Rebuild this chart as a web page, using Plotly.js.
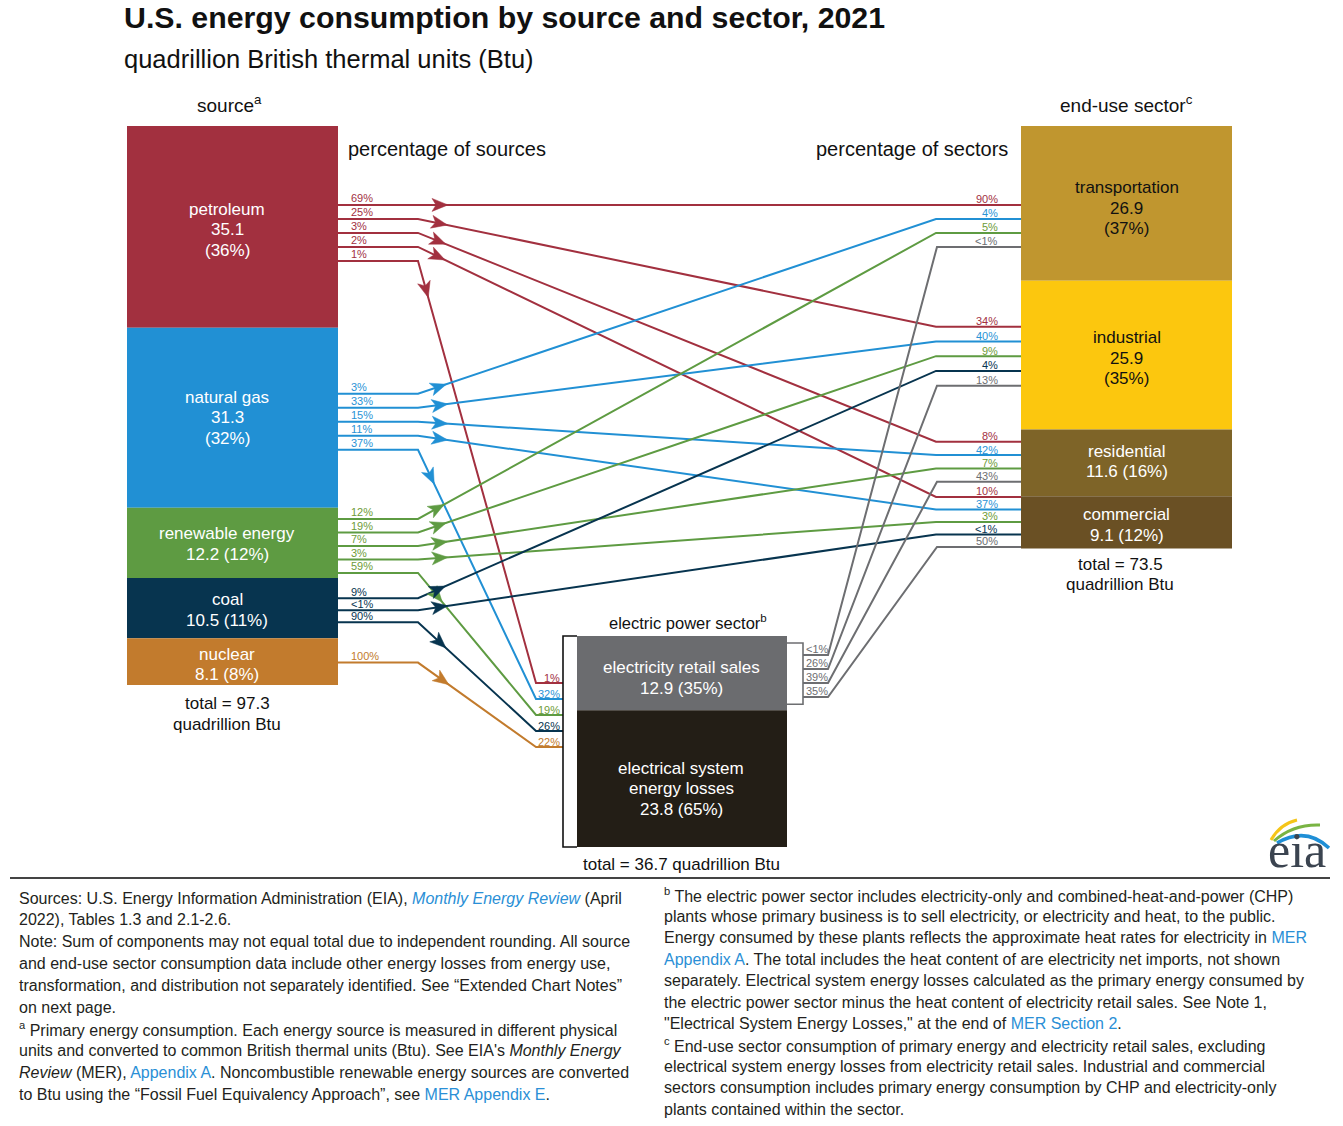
<!DOCTYPE html>
<html><head><meta charset="utf-8">
<script src="https://cdn.plot.ly/plotly-3.0.1.min.js"></script>
<style>body{margin:0;background:#fff}#chart{width:1343px;height:1126px}</style>
</head><body><div id="chart"></div>
<script>
// ---------------- DATA ----------------
const sources = ['petroleum','natural gas','renewable energy','coal','nuclear'];
const sourceValues = [35.1, 31.3, 12.2, 10.5, 8.1];
const sourceShares = ['36%','32%','12%','11%','8%'];
const sourceTotal = 97.3;

const sectors = ['transportation','industrial','residential','commercial'];
const sectorValues = [26.9, 25.9, 11.6, 9.1];
const sectorShares = ['37%','35%','16%','12%'];
const sectorTotal = 73.5;

const electricParts = ['electricity retail sales','electrical system|energy losses'];
const electricValues = [12.9, 23.8];
const electricShares = ['35%','65%'];
const electricTotal = 36.7;

// destinations order: transportation, industrial, residential, commercial, electric power
// percentage of each source going to each destination
const petroleumToPct  = ['69%','25%','3%','2%','1%'];
const naturalGasToPct = ['3%','33%','15%','11%','37%'];
const renewableToPct  = ['12%','19%','7%','3%','59%'];
const coalToPct       = [null,'9%',null,'<1%','90%'];
const nuclearToPct    = [null,null,null,null,'100%'];
// share of each destination supplied by each source
const petroleumInPct  = ['90%','34%','8%','10%','1%'];
const naturalGasInPct = ['4%','40%','42%','37%','32%'];
const renewableInPct  = ['5%','9%','7%','3%','19%'];
const coalInPct       = [null,'4%',null,'<1%','26%'];
const nuclearInPct    = [null,null,null,null,'22%'];
// electricity retail sales to the four sectors
const retailToPct = ['<1%','26%','39%','35%'];
const retailInPct = ['<1%','13%','43%','50%'];

// ---------------- STYLE / LAYOUT ----------------
const FONT = 'Liberation Sans, Arial, Helvetica, sans-serif';
const sourceColors = ['#a2303f','#2190d4','#5e9b42','#07344f','#c27b2d'];
const labelColors  = ['#a2303f','#2a93d6','#6e9c38','#07344f','#c27b2d'];
const sectorColors = ['#c0962f','#fcc70e','#7e6428','#6a5024'];
const sectorText   = ['#111','#111','#fff','#fff'];
const electricColors = ['#6b6c6f','#231e16'];
const retailColor = '#6d6e71';

const K = 5.75;            // pixels per quadrillion Btu
const TOP = 126;
const SRC_X0 = 127, SRC_X1 = 338;
const SEC_X0 = 1021, SEC_X1 = 1232;
const EL_X0 = 577, EL_X1 = 787, EL_TOP = 636;
const srcOffset = [6,4,3,2,1], srcSpacing = [14,14,13.5,12,0];
const secOffset = [22.6,1,-1.2,-0.5], secSpacing = [14,14.75,13.3,12.5];
const srcLabelShift = [3,0,1,2,3];
const secLabelShift = [5,3,-1.5,2.5];
const elLabelShift = [5,10];
const LINE_GAP = 20.5;

function stack(values, top){ let y = top; return values.map(v => { const y0 = y; y += v*K; return [y0, y]; }); }
const srcBlocks = stack(sourceValues, TOP);
const secBlocks = stack(sectorValues, TOP);
const elBlocks  = stack(electricValues, EL_TOP);

const srcTo = [petroleumToPct, naturalGasToPct, renewableToPct, coalToPct, nuclearToPct];
const srcIn = [petroleumInPct, naturalGasInPct, renewableInPct, coalInPct, nuclearInPct];

const shapes = [], annotations = [], traces = [];

function ann(x, y, text, opts){
  annotations.push(Object.assign({x, y, xref:'x', yref:'y', text, showarrow:false,
    xanchor:'center', yanchor:'middle', font:{family:FONT, size:17, color:'#111'}}, opts||{}));
}
function multiAnn(x, yc, lines, opts){
  const n = lines.length;
  lines.forEach((t,i)=> ann(x, yc + (i-(n-1)/2)*LINE_GAP, t, opts));
}
function rect(x0,y0,x1,y1,color){
  shapes.push({type:'rect', xref:'x', yref:'y', x0, x1, y0, y1, fillcolor:color, line:{width:0}, layer:'below'});
}

// blocks
sources.forEach((s,i)=>{
  const [y0,y1] = srcBlocks[i];
  rect(SRC_X0, y0, SRC_X1, y1, sourceColors[i]);
  const lines = (i<2) ? [s, `${sourceValues[i]}`, `(${sourceShares[i]})`] : [s, `${sourceValues[i]} (${sourceShares[i]})`];
  multiAnn(227, (y0+y1)/2 + srcLabelShift[i], lines, {font:{family:FONT,size:17,color:'#fff'}});
});
sectors.forEach((s,i)=>{
  const [y0,y1] = secBlocks[i];
  rect(SEC_X0, y0, SEC_X1, y1, sectorColors[i]);
  const lines = (i<2) ? [s, `${sectorValues[i]}`, `(${sectorShares[i]})`] : [s, `${sectorValues[i]} (${sectorShares[i]})`];
  multiAnn((SEC_X0+SEC_X1)/2, (y0+y1)/2 + secLabelShift[i], lines, {font:{family:FONT,size:17,color:sectorText[i]}});
});
electricParts.forEach((s,i)=>{
  const [y0,y1] = elBlocks[i];
  rect(EL_X0, y0, EL_X1, y1, electricColors[i]);
  const lines = s.split('|').concat([`${electricValues[i]} (${electricShares[i]})`]);
  multiAnn((EL_X0+EL_X1)/2 - 1, (y0+y1)/2 + elLabelShift[i], lines, {font:{family:FONT,size:17,color:'#fff'}});
});

// brackets
const elBottom = elBlocks[1][1];
shapes.push({type:'path', xref:'x', yref:'y', path:`M${EL_X0},${EL_TOP} H563 V${elBottom} H${EL_X0}`, line:{color:'#111',width:1.6}});
const rTop = elBlocks[0][0]+7, rBot = elBlocks[0][1]-6;
shapes.push({type:'path', xref:'x', yref:'y', path:`M${EL_X1},${rTop} H803 V${rBot} H${EL_X1}`, line:{color:retailColor,width:1.6}});

// slots
function srcSlot(s, d){
  const list = []; srcTo[s].forEach((p,j)=>{ if(p!==null) list.push(j); });
  const i = list.indexOf(d), n = list.length;
  const c = (srcBlocks[s][0]+srcBlocks[s][1])/2 + srcOffset[s];
  return c + (i-(n-1)/2)*srcSpacing[s];
}
function destSlot(d, s){ // s = source index or 'retail'
  const list = []; srcIn.forEach((arr,j)=>{ if(arr[d]!==null) list.push(j); });
  if(d<4){
    list.push('retail');
    const i = list.indexOf(s), n = list.length;
    const c = (secBlocks[d][0]+secBlocks[d][1])/2 + secOffset[d];
    return c + (i-(n-1)/2)*secSpacing[d];
  }
  const i = list.indexOf(s);
  return EL_TOP + 47 + i*16;
}

function addFlow(xs, ys, color, arrowT){
  traces.push({type:'scatter', mode:'lines', x:xs, y:ys, line:{color, width:2}, hoverinfo:'skip', showlegend:false});
  if(arrowT){
    const dx = xs[2]-xs[1], dy = ys[2]-ys[1], L = Math.hypot(dx,dy);
    const ux = dx/L, uy = dy/L, nx = -uy, ny = ux;
    const tx = xs[1]+ux*arrowT, ty = ys[1]+uy*arrowT;
    const bx = tx-ux*16, by = ty-uy*16, cx = tx-ux*12, cy = ty-uy*12;
    const p = (x,y)=>`${x.toFixed(2)},${y.toFixed(2)}`;
    shapes.push({type:'path', xref:'x', yref:'y',
      path:`M${p(tx,ty)} L${p(bx+nx*6.5,by+ny*6.5)} L${p(cx,cy)} L${p(bx-nx*6.5,by-ny*6.5)} Z`,
      fillcolor:color, line:{color, width:0.5}});
  }
}
function pctLabel(x, y, text, color, anchor){
  ann(x, y, text, {xanchor:anchor, font:{family:FONT, size:11, color}});
}

// source flows
srcTo.forEach((arr, s)=>{
  arr.forEach((p, d)=>{
    if(p===null) return;
    const ys = srcSlot(s, d), yt = destSlot(d, s);
    if(d<4){
      addFlow([SRC_X1, 418, 936, SEC_X0], [ys, ys, yt, yt], sourceColors[s], 30);
      pctLabel(1000, yt-5.5, srcIn[s][d], labelColors[s], 'right');
    } else {
      addFlow([SRC_X1, 418, 536, 563], [ys, ys, yt, yt], sourceColors[s], 38);
      pctLabel(562, yt-5.5, srcIn[s][d], labelColors[s], 'right');
    }
    pctLabel(349, ys-6.5, p, labelColors[s], 'left');
  });
});
// retail flows
retailToPct.forEach((p, d)=>{
  const yr = elBlocks[0][0] + 19 + d*14, yt = destSlot(d, 'retail');
  addFlow([803, 828, 937, SEC_X0], [yr, yr, yt, yt], retailColor, 0);
  pctLabel(804, yr-6, p, retailColor, 'left');
  pctLabel(1000, yt-5.5, retailInPct[d], retailColor, 'right');
});

// titles
ann(122, 17, '<b>U.S. energy consumption by source and sector, 2021</b>', {xanchor:'left', font:{family:FONT,size:30.3,color:'#111'}});
ann(122, 59, 'quadrillion British thermal units (Btu)', {xanchor:'left', font:{family:FONT,size:25.5,color:'#111'}});
ann(229, 104, 'source<sup>a</sup>', {font:{family:FONT,size:19,color:'#111'}});
ann(1126, 104, 'end-use sector<sup>c</sup>', {font:{family:FONT,size:19,color:'#111'}});
ann(346, 149, 'percentage of sources', {xanchor:'left', font:{family:FONT,size:20,color:'#111'}});
ann(1010, 149, 'percentage of sectors', {xanchor:'right', font:{family:FONT,size:20,color:'#111'}});
multiAnn(227, srcBlocks[4][1]+29, [`total = ${sourceTotal}`, 'quadrillion Btu']);
multiAnn(1120, secBlocks[3][1]+26, [`total = ${sectorTotal}`, 'quadrillion Btu']);
ann(688, EL_TOP-14, 'electric power sector<sup>b</sup>', {font:{family:FONT,size:16.5,color:'#111'}});
ann(681, elBottom+17, `total = ${electricTotal} quadrillion Btu`);

// separator
shapes.push({type:'line', xref:'x', yref:'y', x0:10, x1:1330, y0:878, y1:878, line:{color:'#444',width:2}});

// eia logo
ann(1297, 850, 'eia', {font:{family:'Liberation Serif, DejaVu Serif, serif', size:50, color:'#3b4450'}});
shapes.push({type:'path', xref:'x', yref:'y', path:'M1271,840 Q1280,824 1297,820', line:{color:'#f5c518',width:3}});
shapes.push({type:'path', xref:'x', yref:'y', path:'M1274,841 Q1293,824 1320,825', line:{color:'#79b443',width:3}});
shapes.push({type:'path', xref:'x', yref:'y', path:'M1277,843 Q1306,826 1329,848', line:{color:'#1f8fd6',width:3.5}});

// footnotes
const LINK = '#2a8fd6';
const Lk = t => `<span style="color:${LINK}">${t}</span>`;
const leftNotes = [
  `Sources: U.S. Energy Information Administration (EIA), ${Lk('<i>Monthly Energy Review</i>')} (April`,
  `2022), Tables 1.3 and 2.1-2.6.`,
  `Note: Sum of components may not equal total due to independent rounding. All source`,
  `and end-use sector consumption data include other energy losses from energy use,`,
  `transformation, and distribution not separately identified. See “Extended Chart Notes”`,
  `on next page.`,
  `<sup>a</sup> Primary energy consumption. Each energy source is measured in different physical`,
  `units and converted to common British thermal units (Btu). See EIA's <i>Monthly Energy</i>`,
  `<i>Review</i> (MER), ${Lk('Appendix A')}. Noncombustible renewable energy sources are converted`,
  `to Btu using the “Fossil Fuel Equivalency Approach”, see ${Lk('MER Appendix E')}.`
];
const rightNotes = [
  `<sup>b</sup> The electric power sector includes electricity-only and combined-heat-and-power (CHP)`,
  `plants whose primary business is to sell electricity, or electricity and heat, to the public.`,
  `Energy consumed by these plants reflects the approximate heat rates for electricity in ${Lk('MER')}`,
  `${Lk('Appendix A')}. The total includes the heat content of are electricity net imports, not shown`,
  `separately. Electrical system energy losses calculated as the primary energy consumed by`,
  `the electric power sector minus the heat content of electricity retail sales. See Note 1,`,
  `"Electrical System Energy Losses," at the end of ${Lk('MER Section 2')}.`,
  `<sup>c</sup> End-use sector consumption of primary energy and electricity retail sales, excluding`,
  `electrical system energy losses from electricity retail sales. Industrial and commercial`,
  `sectors consumption includes primary energy consumption by CHP and electricity-only`,
  `plants contained within the sector.`
];
leftNotes.forEach((t,i)=> ann(17, 898 + i*21.8, t, {xanchor:'left', font:{family:FONT,size:16,color:'#231f20'}}));
rightNotes.forEach((t,i)=> ann(662, 895 + i*21.4, t, {xanchor:'left', font:{family:FONT,size:16,color:'#231f20'}}));

const layout = {
  width:1343, height:1126, margin:{l:0,r:0,t:0,b:0},
  paper_bgcolor:'#fff', plot_bgcolor:'#fff',
  xaxis:{range:[0,1343], visible:false, fixedrange:true},
  yaxis:{range:[1126,0], visible:false, fixedrange:true},
  showlegend:false, shapes, annotations
};
Plotly.newPlot('chart', traces, layout, {displayModeBar:false, staticPlot:true});
</script></body></html>
